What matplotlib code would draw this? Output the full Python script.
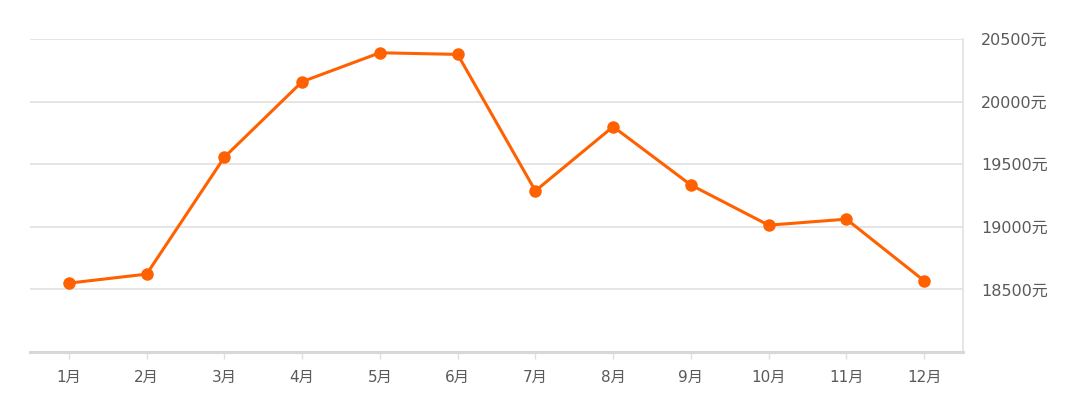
import matplotlib
matplotlib.use("Agg")
import matplotlib.pyplot as plt

plt.rcParams['font.family'] = ['DejaVu Sans', 'Noto Sans CJK SC']

months = ['1月', '2月', '3月', '4月', '5月', '6月', '7月', '8月', '9月', '10月', '11月', '12月']
prices = [18550, 18622, 19556, 20159, 20390, 20377, 19287, 19800, 19334, 19013, 19061, 18569]
yticks = [18500, 19000, 19500, 20000, 20500]
ytick_labels = ['18500元', '19000元', '19500元', '20000元', '20500元']

fig = plt.figure(figsize=(10.8, 4.2), dpi=100)
ax = fig.add_axes([30/1080, 68/420, 933/1080, 313/420])

x = list(range(len(months)))
ax.plot(x, prices, color='#ff6100', linewidth=2.2, marker='o', markersize=9,
        markeredgewidth=0, zorder=3, clip_on=False)

ax.set_xlim(-0.5, 11.5)
ax.set_ylim(18000, 20500)
ax.set_yticks(yticks)
ax.set_yticklabels(ytick_labels)
ax.set_xticks(x)
ax.set_xticklabels(months)

ax.yaxis.tick_right()
ax.grid(axis='y', color='#e0e0e0', linewidth=1.2)
ax.set_axisbelow(True)

for s in ['top', 'left']:
    ax.spines[s].set_visible(False)
ax.spines['right'].set_color('#e2e2e2')
ax.spines['right'].set_linewidth(1.2)
ax.spines['bottom'].set_color('#d8d8d8')
ax.spines['bottom'].set_linewidth(2.2)

ax.tick_params(axis='y', length=0, pad=13, labelsize=11.5, labelcolor='#5a5a5a')
ax.tick_params(axis='x', length=5, width=1, color='#e0e0e0', pad=8,
               labelsize=11, labelcolor='#5a5a5a')

fig.savefig('out.png', dpi=100, facecolor='white')
